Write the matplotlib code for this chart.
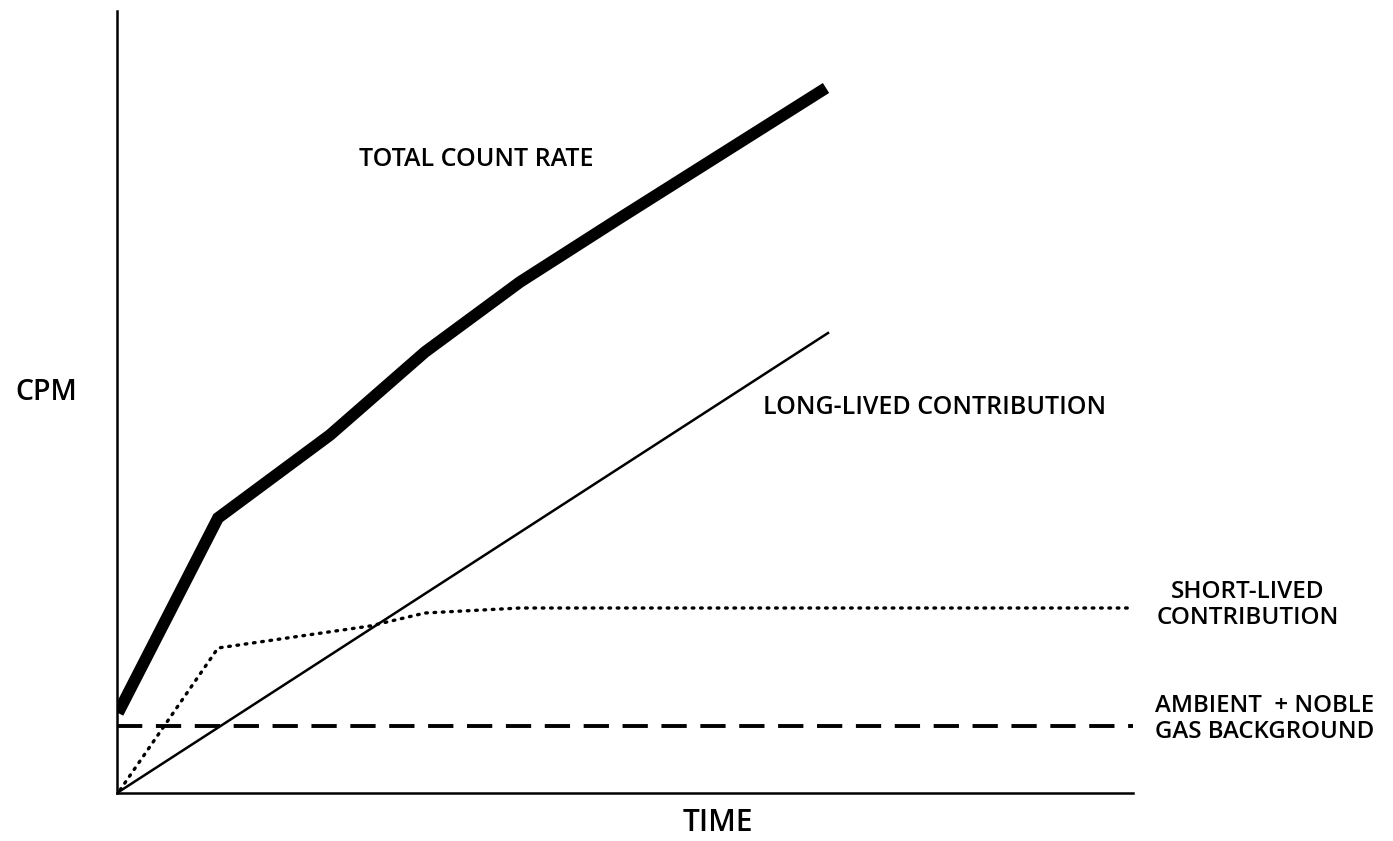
import matplotlib
matplotlib.use("Agg")
import matplotlib.pyplot as plt

# Data (arbitrary units: time, CPM)
total_t = [0.01, 1.01, 2.13, 3.08, 4.03, 5.03, 7.09]
total_cpm = [0.80, 2.75, 3.58, 4.41, 5.11, 5.75, 7.05]

long_t = [0.0, 7.11]
long_cpm = [0.0, 4.60]

short_t = [0.03, 1.01, 2.53, 3.08, 4.03, 10.11]
short_cpm = [0.03, 1.45, 1.67, 1.80, 1.85, 1.85]

bg_t = [0.0, 10.16]
bg_cpm = [0.67, 0.67]

W, H = 1393, 841
fig = plt.figure(figsize=(W / 100, H / 100), dpi=100)
ax = fig.add_axes([117 / W, (H - 793) / H, (1133 - 117) / W, (793 - 11) / H])
ax.set_xlim(0, 10.16)
ax.set_ylim(0, 7.82)
for s in ["top", "right"]:
    ax.spines[s].set_visible(False)
for s in ["left", "bottom"]:
    ax.spines[s].set_linewidth(1.8)
ax.set_xticks([])
ax.set_yticks([])

ax.plot(total_t, total_cpm, color="black", lw=8.5, solid_capstyle="butt", solid_joinstyle="miter")
ax.plot(long_t, long_cpm, color="black", lw=1.8)
ax.plot(short_t, short_cpm, color="black", lw=2.4, linestyle=(0, (0.5, 2.0)), dash_capstyle="round")
ax.plot(bg_t, bg_cpm, color="black", lw=2.8, linestyle=(0, (6.5, 3.5)))

FAM = ["Open Sans", "DejaVu Sans"]

def t(x, y, s, size, ha="left", va="center", ls=1.2):
    fig.text(x / W, 1 - y / H, s, ha=ha, va=va, linespacing=ls, family=FAM,
             fontsize=size, weight="semibold", color="black")

t(476, 160, "TOTAL COUNT RATE", 18, ha="center")
t(15, 393, "CPM", 20.5)
t(763, 408, "LONG-LIVED CONTRIBUTION", 18, ha="left")
t(1248, 605, "SHORT-LIVED\nCONTRIBUTION", 17.5, ha="center", ls=1.15)
t(1155, 719, "AMBIENT  + NOBLE\nGAS BACKGROUND", 17.3, ha="left", ls=1.15)
t(718, 823, "TIME", 21.5, ha="center")

fig.savefig("out.png", dpi=100, facecolor="white")
